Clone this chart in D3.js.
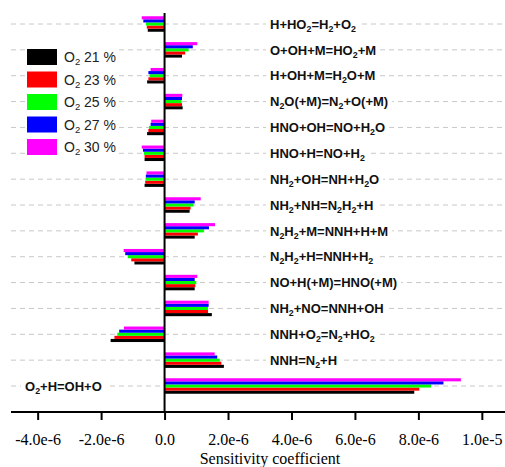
<!DOCTYPE html>
<html>
<head>
<meta charset="utf-8">
<script src="https://cdn.jsdelivr.net/npm/d3@7"></script>
<style>
  html, body { margin: 0; padding: 0; background: #fff; }
  svg { display: block; }
</style>
</head>
<body>
<div id="chart"></div>
<script>
// Reactions, top to bottom ("_2" marks a subscript digit).
const reactions = [
  "H+HO_2=H_2+O_2",
  "O+OH+M=HO_2+M",
  "H+OH+M=H_2O+M",
  "N_2O(+M)=N_2+O(+M)",
  "HNO+OH=NO+H_2O",
  "HNO+H=NO+H_2",
  "NH_2+OH=NH+H_2O",
  "NH_2+NH=N_2H_2+H",
  "N_2H_2+M=NNH+H+M",
  "N_2H_2+H=NNH+H_2",
  "NO+H(+M)=HNO(+M)",
  "NH_2+NO=NNH+OH",
  "NNH+O_2=N_2+HO_2",
  "NNH=N_2+H",
  "O_2+H=OH+O"
];

// Oxygen fractions (%) for each series.
const oxygen = [21, 23, 25, 27, 30];
const seriesColors = ["#000000", "#ff0000", "#00ff00", "#0000ff", "#ff00ff"];

// Sensitivity coefficients (x 1e-6), one array per series, same order as reactions.
const o2_21 = [-0.53, 0.55, -0.55, 0.57, -0.55, -0.63, -0.63, 0.79, 0.95, -0.95, 0.95, 1.49, -1.70, 1.87, 7.87];
const o2_23 = [-0.56, 0.65, -0.51, 0.55, -0.51, -0.63, -0.61, 0.82, 1.05, -1.05, 0.97, 1.37, -1.58, 1.79, 8.03];
const o2_25 = [-0.59, 0.76, -0.47, 0.53, -0.49, -0.65, -0.60, 0.91, 1.24, -1.16, 1.00, 1.37, -1.49, 1.74, 8.40];
const o2_27 = [-0.67, 0.89, -0.51, 0.55, -0.44, -0.68, -0.59, 0.95, 1.40, -1.24, 0.95, 1.39, -1.43, 1.66, 8.79];
const o2_30 = [-0.72, 1.03, -0.44, 0.56, -0.42, -0.72, -0.57, 1.14, 1.59, -1.29, 1.03, 1.39, -1.28, 1.58, 9.34];
const seriesValues = [o2_21, o2_23, o2_25, o2_27, o2_30];

const tickValues = [-4e-6, -2e-6, 0, 2e-6, 4e-6, 6e-6, 8e-6, 1e-5];
const xTitle = "Sensitivity coefficient";

// Dimensions.
const width = 505, height = 467;
const plotLeft = 11, plotRight = 505, plotTop = 13, axisY = 412;

const svg = d3.select("#chart").append("svg")
  .attr("width", width)
  .attr("height", height)
  .attr("viewBox", [0, 0, width, height]);

const x = d3.scaleLinear().domain([-4.84e-6, 1.073e-5]).range([plotLeft, plotRight]);
const y = d3.scalePoint().domain(reactions).range([24, 386]);
// Bars inside a group: 30 % on top, 21 % at the bottom.
const inner = d3.scaleBand().domain([30, 27, 25, 23, 21]).range([-7.75, 7.75]);
const color = d3.scaleOrdinal().domain(oxygen).range(seriesColors);

// Dashed grid lines.
svg.append("g")
  .attr("stroke", "#c8c8c8")
  .attr("stroke-width", 1)
  .attr("stroke-dasharray", "5,4")
  .selectAll("line")
  .data(reactions)
  .join("line")
    .attr("x1", plotLeft).attr("x2", plotRight)
    .attr("y1", d => y(d)).attr("y2", d => y(d));

// Bars.
const rows = [];
reactions.forEach((r, i) => {
  oxygen.forEach((o, j) => rows.push({ reaction: r, o2: o, value: seriesValues[j][i] * 1e-6 }));
});

svg.append("g")
  .selectAll("rect")
  .data(rows)
  .join("rect")
    .attr("x", d => x(Math.min(0, d.value)))
    .attr("width", d => Math.abs(x(d.value) - x(0)))
    .attr("y", d => y(d.reaction) + inner(d.o2))
    .attr("height", inner.bandwidth())
    .attr("fill", d => color(d.o2));

// Zero line.
svg.append("line")
  .attr("x1", x(0)).attr("x2", x(0))
  .attr("y1", plotTop).attr("y2", axisY)
  .attr("stroke", "#000").attr("stroke-width", 2);

// Bottom axis.
const fmt = d => d === 0 ? "0.0" : d3.format(".1e")(d).replace("\u2212", "-").replace("e-0", "e-");
const axis = svg.append("g")
  .attr("transform", `translate(0,${axisY})`)
  .call(d3.axisBottom(x).tickValues(tickValues).tickFormat(fmt).tickSize(8).tickPadding(14));
axis.select(".domain").attr("stroke-width", 2).attr("d", `M${plotLeft},0H${plotRight}`);
axis.selectAll(".tick line").attr("stroke-width", 2);
axis.selectAll(".tick text")
  .attr("font-family", "'Liberation Serif', 'Times New Roman', serif")
  .attr("font-size", 16)
  .attr("fill", "#000");

svg.append("text")
  .attr("x", 270).attr("y", 464)
  .attr("text-anchor", "middle")
  .attr("font-family", "'Liberation Serif', 'Times New Roman', serif")
  .attr("font-size", 16)
  .text(xTitle);

// Write a formula with subscripts into a text element.
function formula(text, str, size) {
  const parts = str.split(/_(\d)/);
  let shifted = false;
  parts.forEach((p, i) => {
    if (p === "") return;
    const sub = i % 2 === 1;
    const t = text.append("tspan").text(p);
    if (sub) {
      t.attr("font-size", size * 0.68).attr("dy", shifted ? null : 3);
      shifted = true;
    } else if (shifted) {
      t.attr("dy", -3);
      shifted = false;
    }
  });
}

// Reaction labels with white boxes.
const labelG = svg.append("g");
reactions.forEach((r, i) => {
  const last = i === reactions.length - 1;
  const g = labelG.append("g");
  const t = g.append("text")
    .attr("x", last ? 25 : 270)
    .attr("y", y(r))
    .attr("dy", "0.36em")
    .attr("font-family", "'Liberation Sans', Arial, sans-serif")
    .attr("font-weight", "bold")
    .attr("font-size", 13)
    .attr("fill", "#111");
  formula(t, r, 13);
  const b = t.node().getBBox();
  g.insert("rect", "text")
    .attr("x", b.x - 4).attr("y", y(r) - 6)
    .attr("width", b.width + 8).attr("height", 12)
    .attr("fill", "#fff");
});

// Legend.
const legend = svg.append("g");
legend.append("rect")
  .attr("x", 26).attr("y", 46).attr("width", 92).attr("height", 112)
  .attr("fill", "#fff");
oxygen.forEach((o, i) => {
  const ly = 49 + i * 22.5;
  legend.append("rect")
    .attr("x", 27).attr("y", ly).attr("width", 30).attr("height", 16)
    .attr("fill", color(o));
  const t = legend.append("text")
    .attr("x", 64).attr("y", ly + 13)
    .attr("font-family", "'Liberation Sans', Arial, sans-serif")
    .attr("font-size", 14)
    .attr("fill", "#222");
  formula(t, `O_2 ${o} %`, 14);
});
</script>
</body>
</html>
